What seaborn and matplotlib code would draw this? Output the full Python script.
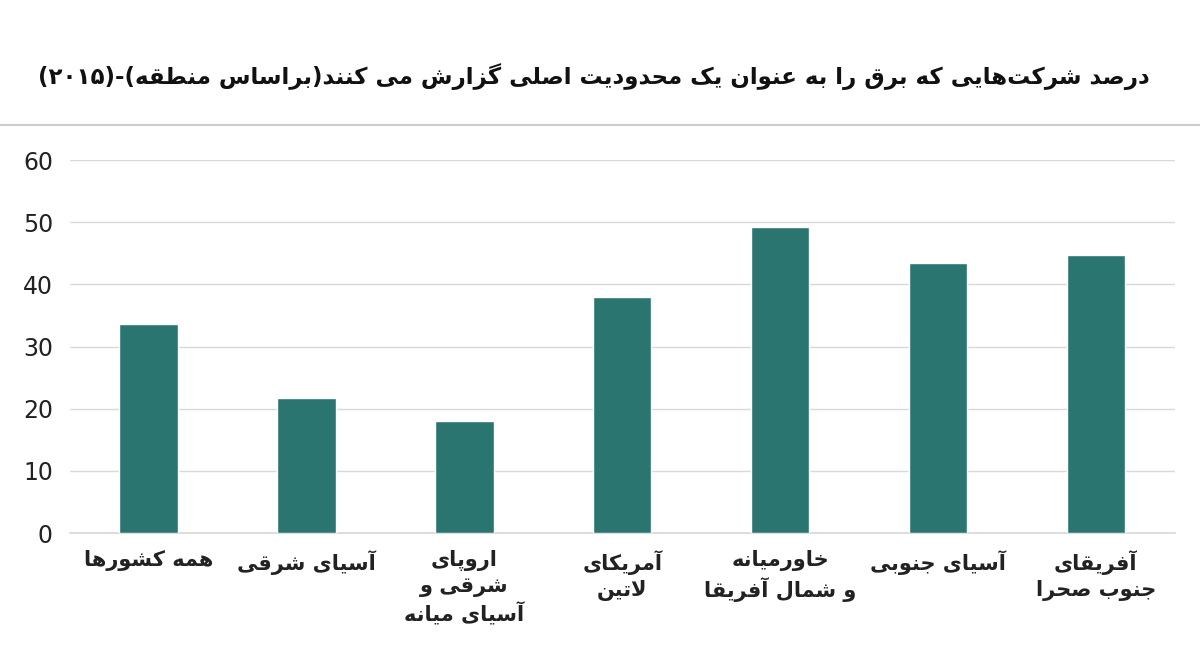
import matplotlib
matplotlib.use("Agg")
import matplotlib.pyplot as plt
import seaborn as sns
import pandas as pd
from matplotlib.lines import Line2D

categories = ["همه کشورها", "آسیای شرقی", "اروپای\nشرقی و\nآسیای میانه", "آمریکای\nلاتین",
              "خاورمیانه\nو شمال آفریقا", "آسیای جنوبی", "آفریقای\nجنوب صحرا"]
values = [33.7, 21.8, 18.0, 37.9, 49.3, 43.5, 44.8]
title = "درصد شرکت‌هایی که برق را به عنوان یک محدودیت اصلی گزارش می کنند(براساس منطقه)-(۲۰۱۵)"

FORMS = {
    'ا': (0xFE8D, 2), 'آ': (0xFE81, 2), 'د': (0xFEA9, 2), 'ذ': (0xFEAB, 2), 'ر': (0xFEAD, 2),
    'ز': (0xFEAF, 2), 'و': (0xFEED, 2),
    'ب': (0xFE8F, 4), 'ت': (0xFE95, 4), 'ج': (0xFE9D, 4), 'ح': (0xFEA1, 4), 'خ': (0xFEA5, 4),
    'س': (0xFEB1, 4), 'ش': (0xFEB5, 4), 'ص': (0xFEB9, 4), 'ط': (0xFEC1, 4), 'ع': (0xFEC9, 4),
    'ف': (0xFED1, 4), 'ق': (0xFED5, 4), 'ل': (0xFEDD, 4), 'م': (0xFEE1, 4), 'ن': (0xFEE5, 4),
    'ه': (0xFEE9, 4), 'ی': (0xFBFC, 4), 'ک': (0xFB8E, 4), 'گ': (0xFB92, 4), 'پ': (0xFB56, 4),
}

def shape(s):
    chars = []
    i = 0
    while i < len(s):
        if s[i] == 'ل' and i + 1 < len(s) and s[i + 1] in 'اآ':
            chars.append('LA' if s[i + 1] == 'ا' else 'LAA')
            i += 2
        else:
            chars.append(s[i]); i += 1
    def joins_next(c):
        return c in FORMS and FORMS[c][1] == 4
    def is_letter(c):
        return c in FORMS or c in ('LA', 'LAA')
    out = []
    for k, c in enumerate(chars):
        prev = chars[k - 1] if k > 0 else None
        nxt = chars[k + 1] if k + 1 < len(chars) else None
        jp = prev is not None and joins_next(prev)
        if c in ('LA', 'LAA'):
            base = 0xFEFB if c == 'LA' else 0xFEF5
            out.append(chr(base + (1 if jp else 0)))
            continue
        if c not in FORMS:
            if c != '\u200c':
                out.append(c)
            continue
        base, n = FORMS[c]
        jn = n == 4 and nxt is not None and is_letter(nxt)
        if n == 2:
            out.append(chr(base + (1 if jp else 0)))
        else:
            if jp and jn: off = 3
            elif jp: off = 1
            elif jn: off = 2
            else: off = 0
            out.append(chr(base + off))
    r = ''.join(out)[::-1]
    r = r.translate(str.maketrans('()', ')('))
    res, run = [], []
    for ch in r:
        if ch.isdigit():
            run.append(ch)
        else:
            if run: res.extend(run[::-1]); run = []
            res.append(ch)
    res.extend(run[::-1])
    return ''.join(res)

def shape_lines(s):
    return '\n'.join(shape(l) for l in s.split('\n'))

sns.set_theme(style="white")
plt.rcParams['font.family'] = ['DejaVu Sans']

df = pd.DataFrame({"cat": [shape_lines(c) for c in categories], "val": values})

fig = plt.figure(figsize=(12, 6.64), dpi=100)
ax = fig.add_axes([0.058, 0.197, 0.921, 0.562])
sns.barplot(data=df, x="cat", y="val", color="#2b7570", width=0.37, saturation=1, ax=ax, zorder=3)
ax.set_ylim(0, 60)
ax.set_yticks(range(0, 61, 10))
ax.yaxis.grid(True, color="#d9d9d9", linewidth=1, zorder=0)
for sp in ax.spines.values():
    sp.set_visible(False)
ax.spines['bottom'].set_visible(True)
ax.spines['bottom'].set_color("#d9d9d9")
ax.set_xlabel(""); ax.set_ylabel("")
ax.tick_params(axis='y', labelsize=17, colors="#222222", length=0, pad=12)
ax.tick_params(axis='x', labelsize=15, colors="#222222", length=0, pad=12)
for t in ax.get_xticklabels():
    t.set_fontweight('bold'); t.set_linespacing(1.3)

fig.text(0.495, 0.885, shape(title), ha='center', va='center', fontsize=16.5, fontweight='bold', color="#111111")
fig.add_artist(Line2D([0, 1], [0.812, 0.812], color="#cccccc", linewidth=1.5, transform=fig.transFigure))

fig.savefig("out.png", dpi=100)
